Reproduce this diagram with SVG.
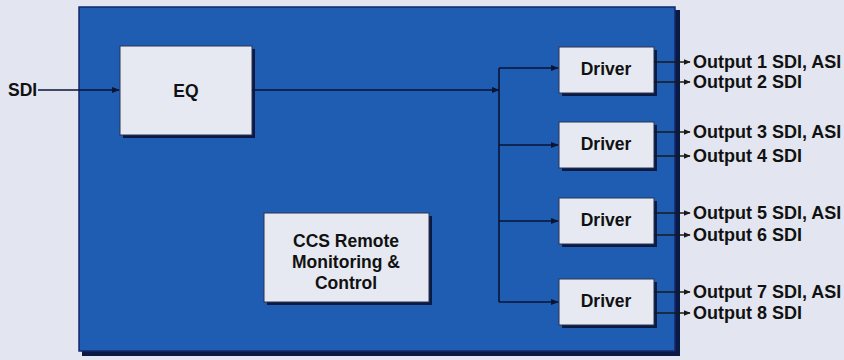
<svg xmlns="http://www.w3.org/2000/svg" width="844" height="360" viewBox="0 0 844 360">
<style>
.t{font-family:"Liberation Sans",Arial,sans-serif;font-weight:bold;font-size:17.5px;fill:#111;}
.o{font-size:18px;}
.c{text-anchor:middle;}
.box{fill:#e6e9f1;stroke:#2a3550;stroke-width:1;}
.sh{fill:#0b1a45;}
.ln{fill:none;stroke:#0a1535;stroke-width:1.6;}
.lo{fill:none;stroke:#1a1a1a;stroke-width:1.4;}
</style>
<defs>
<marker id="a" viewBox="0 0 10 10" refX="9" refY="5" markerWidth="5" markerHeight="5" orient="auto"><path d="M0,1L10,5L0,9z" fill="#0a1535"/></marker>
<marker id="b" viewBox="0 0 10 10" refX="9" refY="5" markerWidth="5" markerHeight="5" orient="auto"><path d="M0,1L10,5L0,9z" fill="#1a1a1a"/></marker>
</defs>
<rect width="844" height="360" fill="#e3e6f0"/>
<g id="frame">
<rect x="82" y="10" width="598" height="346" class="sh"/>
<rect x="79" y="7" width="596" height="344" fill="#1f5db2" stroke="#13296a" stroke-width="1.5"/>
</g>
<g id="eq">
<rect x="123" y="49" width="132" height="89" class="sh"/>
<rect x="120" y="46" width="132" height="89" class="box"/>
<text x="186" y="97" class="t c">EQ</text>
</g>
<g id="ccs">
<rect x="267" y="216" width="165" height="89" class="sh"/>
<rect x="264" y="213" width="165" height="89" class="box"/>
<text x="346" y="247" class="t c">CCS Remote</text>
<text x="346" y="268" class="t c">Monitoring &amp;</text>
<text x="346" y="289" class="t c">Control</text>
</g>
<g id="driver1">
<rect x="562" y="50" width="95" height="46" class="sh"/>
<rect x="559" y="47" width="95" height="46" class="box"/>
<text x="606" y="75" class="t c">Driver</text>
</g>
<g id="driver2">
<rect x="562" y="125" width="95" height="46" class="sh"/>
<rect x="559" y="122" width="95" height="46" class="box"/>
<text x="606" y="150" class="t c">Driver</text>
</g>
<g id="driver3">
<rect x="562" y="201" width="95" height="46" class="sh"/>
<rect x="559" y="198" width="95" height="46" class="box"/>
<text x="606" y="226" class="t c">Driver</text>
</g>
<g id="driver4">
<rect x="562" y="282" width="95" height="46" class="sh"/>
<rect x="559" y="279" width="95" height="46" class="box"/>
<text x="606" y="307" class="t c">Driver</text>
</g>
<g id="connectors">
<line x1="38" y1="90" x2="119" y2="90" class="ln" marker-end="url(#a)"/>
<line x1="252" y1="90" x2="499" y2="90" class="ln" marker-end="url(#a)"/>
<line x1="499" y1="68" x2="499" y2="302" class="ln"/>
<line x1="499" y1="68" x2="558" y2="68" class="ln" marker-end="url(#a)"/>
<line x1="499" y1="145" x2="558" y2="145" class="ln" marker-end="url(#a)"/>
<line x1="499" y1="221" x2="558" y2="221" class="ln" marker-end="url(#a)"/>
<line x1="499" y1="302" x2="558" y2="302" class="ln" marker-end="url(#a)"/>
<line x1="654" y1="62" x2="690" y2="62" class="lo" marker-end="url(#b)"/>
<line x1="654" y1="82" x2="690" y2="82" class="lo" marker-end="url(#b)"/>
<line x1="654" y1="132" x2="690" y2="132" class="lo" marker-end="url(#b)"/>
<line x1="654" y1="156" x2="690" y2="156" class="lo" marker-end="url(#b)"/>
<line x1="654" y1="213" x2="690" y2="213" class="lo" marker-end="url(#b)"/>
<line x1="654" y1="235" x2="690" y2="235" class="lo" marker-end="url(#b)"/>
<line x1="654" y1="292" x2="690" y2="292" class="lo" marker-end="url(#b)"/>
<line x1="654" y1="313" x2="690" y2="313" class="lo" marker-end="url(#b)"/>
</g>
<g id="labels">
<text x="8" y="96" class="t">SDI</text>
<text x="693" y="68" class="t o">Output 1 SDI, ASI</text>
<text x="693" y="88" class="t o">Output 2 SDI</text>
<text x="693" y="138" class="t o">Output 3 SDI, ASI</text>
<text x="693" y="162" class="t o">Output 4 SDI</text>
<text x="693" y="219" class="t o">Output 5 SDI, ASI</text>
<text x="693" y="241" class="t o">Output 6 SDI</text>
<text x="693" y="298" class="t o">Output 7 SDI, ASI</text>
<text x="693" y="319" class="t o">Output 8 SDI</text>
</g>
</svg>
